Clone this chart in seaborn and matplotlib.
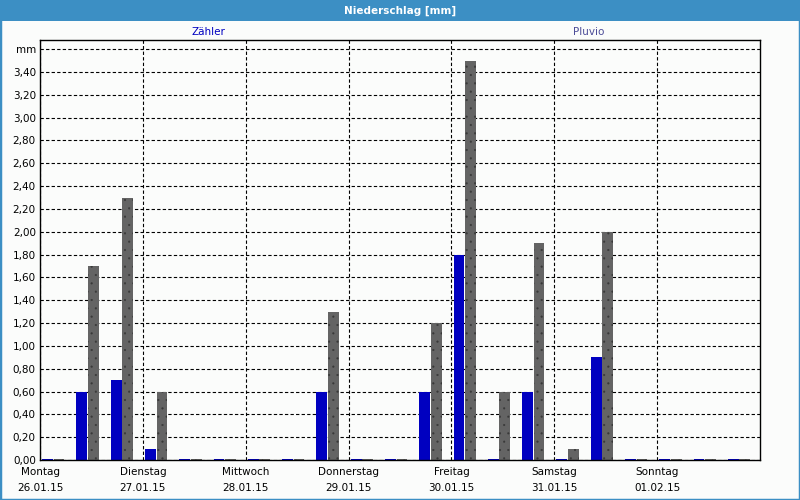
import matplotlib
matplotlib.use("Agg")
import matplotlib.pyplot as plt
from matplotlib.patches import Rectangle
from matplotlib.ticker import MultipleLocator, FuncFormatter
import pandas as pd
import seaborn as sns

# 8-hour slots, Monday 00:00 to Sunday 24:00
days = ["Montag", "Dienstag", "Mittwoch", "Donnerstag", "Freitag", "Samstag", "Sonntag"]
dates = ["26.01.15", "27.01.15", "28.01.15", "29.01.15", "30.01.15", "31.01.15", "01.02.15"]
slots_per_day = 3
zaehler = [0.01, 0.6, 0.7, 0.1, 0.01, 0.01, 0.01, 0.01, 0.6, 0.01, 0.01, 0.6, 1.8, 0.01,
           0.6, 0.01, 0.9, 0.01, 0.01, 0.01, 0.01]
pluvio = [0.01, 1.7, 2.3, 0.6, 0.01, 0.01, 0.01, 0.01, 1.3, 0.01, 0.01, 1.2, 3.5, 0.6,
          1.9, 0.1, 2.0, 0.01, 0.01, 0.01, 0.01]
series = ["Zähler", "Pluvio"]

BLUE = "#0000c0"
GREY = "#646464"
FRAME = "#3c8fc4"
BG = "#fbfcfb"

n = len(zaehler)
df = pd.DataFrame({
    "slot": list(range(n)) * 2,
    "mm": zaehler + pluvio,
    "serie": [series[0]] * n + [series[1]] * n,
})

sns.set_theme(style="white")
plt.rcParams["font.family"] = ["DejaVu Sans"]
plt.rcParams["text.color"] = "black"
plt.rcParams["xtick.color"] = "black"
plt.rcParams["ytick.color"] = "black"
plt.rcParams["hatch.color"] = "#383838"
plt.rcParams["hatch.linewidth"] = 0.3

fig = plt.figure(figsize=(8, 5), dpi=100, facecolor=BG)
ax = fig.add_axes([0.05, 0.08, 0.90, 0.84], facecolor=BG)

sns.barplot(data=df, x="slot", y="mm", hue="serie", hue_order=series,
            palette=[BLUE, GREY], width=0.67, gap=0.06, saturation=1,
            legend=False, ax=ax, linewidth=0)

for bar in ax.containers[1]:
    bar.set_hatch("..")
    bar.set_edgecolor("#383838")
    bar.set_linewidth(0)

# slot boundaries sit a bit left of each pair
shift = 0.388
ax.set_xlim(-shift, n - shift)
ax.set_ylim(0, 3.68)

day_pos = [k * slots_per_day - shift for k in range(len(days))]
ax.set_xticks(day_pos)
ax.set_xticklabels([f"{d}\n{t}" for d, t in zip(days, dates)], fontsize=7.5,
                   linespacing=1.7)
ax.yaxis.set_major_locator(MultipleLocator(0.2))
ax.yaxis.set_major_formatter(FuncFormatter(
    lambda v, p: "mm" if v > 3.5 else f"{v:.2f}".replace(".", ",")))
ax.tick_params(axis="y", length=0, labelsize=7.5, pad=3, labelcolor="black")
ax.tick_params(axis="x", length=3, width=0.8, color="black", pad=2, labelcolor="black")
ax.set_xlabel("")
ax.set_ylabel("")

ax.grid(True, axis="both", color="black", linestyle=(0, (3, 2)), linewidth=0.8)
ax.set_axisbelow(True)
for s in ax.spines.values():
    s.set_color("black")
    s.set_linewidth(1.0)
    s.set_zorder(4)

# series labels above the plot
fig.text(0.261, 0.936, series[0], color=BLUE, fontsize=7.5, ha="center", va="center")
fig.text(0.736, 0.936, series[1], color="#4c4c98", fontsize=7.5, ha="center", va="center")

# window-style title bar and border
fig.add_artist(Rectangle((0, 1 - 21 / 500), 1, 21 / 500, transform=fig.transFigure,
                         facecolor=FRAME, edgecolor="none", zorder=0))
fig.add_artist(Rectangle((0, 0), 1, 1, transform=fig.transFigure, fill=False,
                         edgecolor=FRAME, linewidth=2.5, zorder=5))
fig.text(0.5, 1 - 10.5 / 500, "Niederschlag [mm]", color="white", fontsize=7.5,
         fontweight="bold", ha="center", va="center")

fig.savefig("out.png", dpi=100, facecolor=BG)
